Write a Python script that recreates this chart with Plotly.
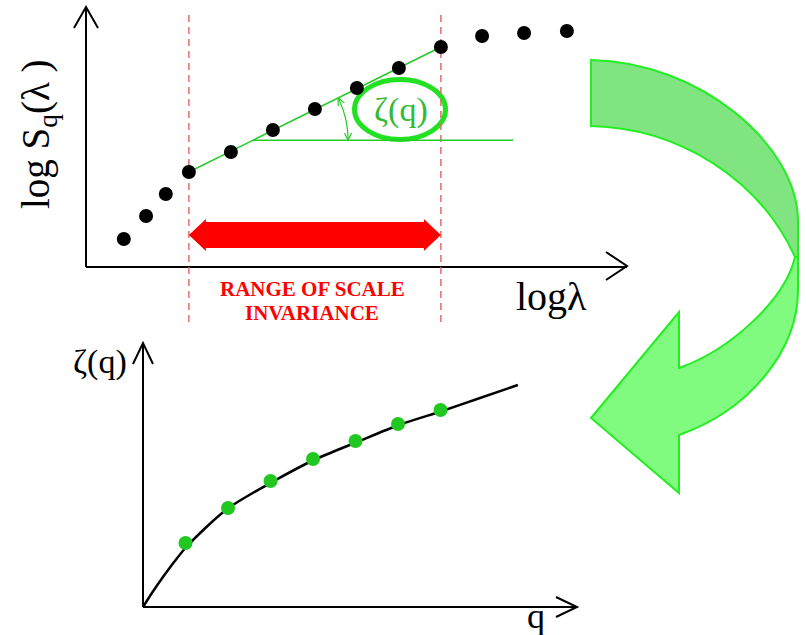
import numpy as np
import plotly.graph_objects as go

W, H = 806, 635

# Structure function: log S_q(lambda) against log lambda
log_lambda = [0.90, 1.43, 1.90, 2.45, 3.45, 4.45, 5.45, 6.45, 7.45, 8.45, 9.43, 10.43, 11.45]
log_S = [1.40, 2.55, 3.65, 4.75, 5.75, 6.85, 7.90, 8.95, 9.95, 11.00, 11.55, 11.70, 11.80]
scaling_range = [2.45, 8.45]   # ends of the scale-invariant range (log lambda)
ref_level = 6.34               # horizontal reference used to show the slope angle
ref_end = 10.17

# Scaling exponents zeta(q)
q_vals = [1, 2, 3, 4, 5, 6, 7]
zeta_vals = [3.20, 4.95, 6.30, 7.40, 8.30, 9.15, 9.85]
curve_q = [0, 0.21, 0.47, 0.75, 1.04, 1.98, 3.04, 4.02, 5.04, 6.02, 7.04, 7.93, 8.82]
curve_zeta = [0, 0.70, 1.50, 2.30, 3.05, 4.90, 6.25, 7.35, 8.25, 9.10, 9.80, 10.45, 11.10]

# Panel frames in pixels: origin, arrow tips, pixels per unit
TOP = dict(x0=86, y0=267, x1=627, y1=7, sx=42.0, sy=20.0)
BOT = dict(x0=143, y0=607, x1=577, y1=343, sx=42.5, sy=20.0)


def fx(p):
    return p / W


def fy(p):
    return 1 - p / H


def top_px(u):
    return TOP["x0"] + u * TOP["sx"]


def top_py(v):
    return TOP["y0"] - v * TOP["sy"]


def path(segs, close=True):
    parts = []
    for cmd, pts in segs:
        parts.append(cmd + " ".join(f"{fx(x):.5f},{fy(y):.5f}" for x, y in pts))
    return " ".join(parts) + (" Z" if close else "")


i0 = log_lambda.index(scaling_range[0])
i1 = log_lambda.index(scaling_range[1])
slope = (log_S[i1] - log_S[i0]) / (scaling_range[1] - scaling_range[0])
ref_start = scaling_range[0] + (ref_level - log_S[i0]) / slope

fig = go.Figure()

# top panel
fig.add_trace(go.Scatter(x=scaling_range, y=[log_S[i0], log_S[i1]], mode="lines",
                         line=dict(color="#22cc22", width=1.5), xaxis="x", yaxis="y"))
fig.add_trace(go.Scatter(x=[ref_start, ref_end], y=[ref_level, ref_level], mode="lines",
                         line=dict(color="#22cc22", width=1.5), xaxis="x", yaxis="y"))
fig.add_trace(go.Scatter(x=log_lambda, y=log_S, mode="markers",
                         marker=dict(color="black", size=14), xaxis="x", yaxis="y"))

# bottom panel
fig.add_trace(go.Scatter(x=curve_q, y=curve_zeta, mode="lines",
                         line=dict(color="black", width=2.5, shape="spline", smoothing=0.8),
                         xaxis="x2", yaxis="y2"))
fig.add_trace(go.Scatter(x=q_vals, y=zeta_vals, mode="markers",
                         marker=dict(color="#22c822", size=14), xaxis="x2", yaxis="y2"))

shapes = []

def line_px(x0, y0, x1, y1, color="black", width=2, dash=None):
    shapes.append(dict(type="line", xref="paper", yref="paper", layer="below",
                       x0=fx(x0), y0=fy(y0), x1=fx(x1), y1=fy(y1),
                       line=dict(color=color, width=width, dash=dash)))

def poly_px(pts, color="black", width=2, fill=None, close=False):
    segs = [("M", [pts[0]])] + [("L", [p]) for p in pts[1:]]
    shapes.append(dict(type="path", xref="paper", yref="paper", layer="below",
                       path=path(segs, close=close), fillcolor=fill,
                       line=dict(color=color, width=width)))

# axes with open arrow heads
for F in (TOP, BOT):
    line_px(F["x0"], F["y0"], F["x1"], F["y0"])
    line_px(F["x0"], F["y0"], F["x0"], F["y1"])
poly_px([(74, 28), (86, 7), (98, 28)])
poly_px([(606, 252), (627, 266), (606, 280)])
poly_px([(133, 364), (143, 343), (153, 364)])
poly_px([(556, 597), (577, 607), (556, 617)])

# ellipse around the slope label
shapes.append(dict(type="circle", xref="paper", yref="paper", layer="below",
                   x0=fx(354.5), x1=fx(445.5), y0=fy(79.5), y1=fy(139.5),
                   line=dict(color="#22e022", width=5)))

# dashed bounds of the scale-invariant range
for u in scaling_range:
    line_px(top_px(u), 15, top_px(u), 322, color="#e36a6a", width=1.5, dash="7px,5px")

# red double arrow spanning the range
xa, xb, yc = top_px(scaling_range[0]), top_px(scaling_range[1]), 235
hw, bw, hl = 16, 13, 17
poly_px([(xa, yc), (xa + hl, yc - hw), (xa + hl, yc - bw), (xb - hl, yc - bw),
         (xb - hl, yc - hw), (xb, yc), (xb - hl, yc + hw), (xb - hl, yc + bw),
         (xa + hl, yc + bw), (xa + hl, yc + hw)], color="#ff0000", width=0,
        fill="#ff0000", close=True)

# angle arc between the fit line and the horizontal
vx, vy = top_px(ref_start), top_py(ref_level)
theta = np.arctan(slope * TOP["sy"] / TOP["sx"])
r = 95
angs = np.linspace(0.0, theta, 30)
arc = [(vx + r * np.cos(a), vy - r * np.sin(a)) for a in angs]
poly_px(arc, color="#22cc22", width=1.2)
for a, sgn in ((0.0, -1), (theta, 1)):
    p = np.array([vx + r * np.cos(a), vy - r * np.sin(a)])
    d = sgn * np.array([-np.sin(a), -np.cos(a)])
    for rot in (0.45, -0.45):
        c, s = np.cos(rot), np.sin(rot)
        back = -np.array([c * d[0] - s * d[1], s * d[0] + c * d[1]]) * 8
        poly_px([tuple(p + back), tuple(p)], color="#22cc22", width=1.2)

# curved transfer arrow between the panels
upper = path([("M", [(591, 60)]), ("C", [(700, 62), (797, 145), (798, 220)]),
              ("L", [(798, 257)]), ("L", [(795, 257)]),
              ("C", [(760, 180), (680, 128), (591, 126)])])
lower = path([("M", [(795, 257)]), ("L", [(798, 257)]), ("L", [(798, 290)]),
              ("C", [(798, 350), (750, 410), (679, 435)]), ("L", [(679, 493)]),
              ("L", [(591, 418)]), ("L", [(679, 312)]), ("L", [(679, 368)]),
              ("C", [(730, 350), (785, 300), (795, 257)])])
shapes.append(dict(type="path", xref="paper", yref="paper", layer="below", path=upper,
                   fillcolor="#80e580", line=dict(color="#22ee22", width=2)))
shapes.append(dict(type="path", xref="paper", yref="paper", layer="below", path=lower,
                   fillcolor="#80fb80", line=dict(color="#22ee22", width=2)))

SERIF = "Liberation Serif"
annotations = []

def label(x, y, text, size, color="black", angle=0, bold=False):
    if bold:
        text = f"<b>{text}</b>"
    annotations.append(dict(x=fx(x), y=fy(y), xref="paper", yref="paper", text=text,
                            showarrow=False, textangle=angle, xanchor="center",
                            yanchor="middle", borderpad=0,
                            font=dict(family=SERIF, size=size, color=color)))

label(38, 134, "log S<sub>q</sub>(λ )", 39, angle=-90)
label(551, 296, "logλ", 40)
label(312, 289.5, "RANGE OF SCALE", 21, color="#ff0000", bold=True)
label(312, 313, "INVARIANCE", 21, color="#ff0000", bold=True)
label(401, 110, "ζ(q)", 34, color="#33bb33")
label(100, 362, "ζ(q)", 34)
label(536, 616, "q", 36)

fig.update_layout(
    width=W, height=H, margin=dict(l=0, r=0, t=0, b=0),
    paper_bgcolor="white", plot_bgcolor="rgba(0,0,0,0)", showlegend=False,
    xaxis=dict(domain=[fx(TOP["x0"]), fx(TOP["x1"])],
               range=[0, (TOP["x1"] - TOP["x0"]) / TOP["sx"]], visible=False, anchor="y"),
    yaxis=dict(domain=[fy(TOP["y0"]), fy(TOP["y1"])],
               range=[0, (TOP["y0"] - TOP["y1"]) / TOP["sy"]], visible=False, anchor="x"),
    xaxis2=dict(domain=[fx(BOT["x0"]), fx(BOT["x1"])],
                range=[0, (BOT["x1"] - BOT["x0"]) / BOT["sx"]], visible=False, anchor="y2"),
    yaxis2=dict(domain=[fy(BOT["y0"]), fy(BOT["y1"])],
                range=[0, (BOT["y0"] - BOT["y1"]) / BOT["sy"]], visible=False, anchor="x2"),
    shapes=shapes, annotations=annotations,
)

fig.write_html("out.html")
